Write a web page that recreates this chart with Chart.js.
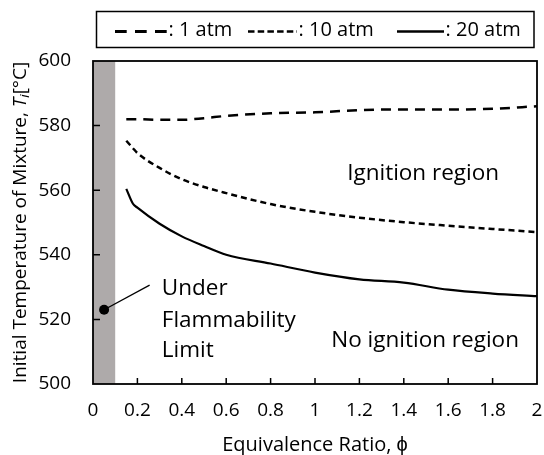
<!DOCTYPE html>
<html lang="en">
<head>
  <meta charset="UTF-8" />
  <title>Ignition temperature vs equivalence ratio</title>
  <style>
    body { margin: 0; background: #fff; }
    #wrap { width: 544px; height: 455px; }
  </style>
  <script src="https://cdn.jsdelivr.net/npm/chart.js"></script>
</head>
<body>
  <div id="wrap"><canvas id="grafico" width="544" height="455"></canvas></div>

  <script>
    // equivalence ratio points and initial mixture temperature for each pressure
    const phi = [0.15, 0.18, 0.2, 0.3, 0.4, 0.5, 0.6, 0.8, 1.0, 1.2, 1.4, 1.6, 1.8, 2.0];
    const temp1atm  = [582, 582, 582, 581.8, 581.8, 582.3, 583, 583.8, 584.1, 584.8, 585, 585, 585.2, 586];
    const temp10atm = [575.3, 573, 571.5, 566.9, 563.4, 561, 559.1, 555.7, 553.3, 551.5, 550.1, 549, 548, 547];
    const temp20atm = [560.4, 555.8, 554.6, 549.6, 545.7, 542.7, 540, 537.3, 534.5, 532.4, 531.4, 529.2, 528, 527.2];

    const xTicks = [0, 0.2, 0.4, 0.6, 0.8, 1, 1.2, 1.4, 1.6, 1.8, 2];
    const yTicks = [500, 520, 540, 560, 580, 600];

    // flammability limit band and its marker
    const limitPhi = 0.1;
    const leaderLine = [{ x: 0.05, y: 523 }, { x: 0.255, y: 530.6 }];

    const FONT = '"Open Sans", sans-serif';

    const pts = arr => phi.map((p, i) => ({ x: p, y: arr[i] }));

    const plotExtras = {
      id: 'plotExtras',
      beforeDatasetsDraw(chart) {
        const { ctx, scales: { x, y } } = chart;
        // grey band below the lean flammability limit
        ctx.save();
        ctx.fillStyle = '#aeaaaa';
        const x0 = x.getPixelForValue(0), x1 = x.getPixelForValue(limitPhi);
        ctx.fillRect(x0, y.getPixelForValue(600), x1 - x0, y.getPixelForValue(500) - y.getPixelForValue(600));
        ctx.restore();
      },
      afterDraw(chart) {
        const { ctx, chartArea: a, scales: { x, y } } = chart;
        ctx.save();

        // inward tick marks
        ctx.strokeStyle = '#000';
        ctx.lineWidth = 1.5;
        ctx.beginPath();
        xTicks.slice(1, -1).forEach(v => {
          const px = x.getPixelForValue(v);
          ctx.moveTo(px, a.bottom);
          ctx.lineTo(px, a.bottom - 6);
        });
        yTicks.slice(1, -1).forEach(v => {
          const py = y.getPixelForValue(v);
          ctx.moveTo(a.left, py);
          ctx.lineTo(a.left + 7, py);
        });
        ctx.stroke();

        // frame
        ctx.lineWidth = 1.8;
        ctx.strokeRect(a.left, a.top, a.right - a.left, a.bottom - a.top);

        // region labels
        ctx.fillStyle = '#000';
        ctx.font = '22.5px ' + FONT;
        ctx.textBaseline = 'alphabetic';
        ctx.textAlign = 'center';
        ctx.fillText('Ignition region', x.getPixelForValue(1.487), y.getPixelForValue(563.2));
        ctx.fillText('No ignition region', x.getPixelForValue(1.496), y.getPixelForValue(511.6));
        ctx.textAlign = 'left';
        ctx.fillText('Under', x.getPixelForValue(0.31), y.getPixelForValue(527.4));
        ctx.fillText('Flammability', x.getPixelForValue(0.31), y.getPixelForValue(517.5));
        ctx.fillText('Limit', x.getPixelForValue(0.31), y.getPixelForValue(508.5));

        // y axis title with italic T and subscript i
        ctx.translate(21, (a.top + a.bottom) / 2);
        ctx.rotate(-Math.PI / 2);
        const parts = [
          { t: 'Initial Temperature of Mixture, ', f: '19px ' + FONT, dy: 0 },
          { t: 'T', f: 'italic 19px ' + FONT, dy: 0 },
          { t: 'i', f: 'italic 13px ' + FONT, dy: 4 },
          { t: '[°C]', f: '19px ' + FONT, dy: 0 }
        ];
        let total = 0;
        parts.forEach(p => { ctx.font = p.f; p.w = ctx.measureText(p.t).width; total += p.w; });
        let cx = -total / 2;
        ctx.textBaseline = 'middle';
        parts.forEach(p => {
          ctx.font = p.f;
          ctx.fillText(p.t, cx, p.dy);
          cx += p.w;
        });
        ctx.restore();

        // legend box above the plot
        ctx.save();
        ctx.strokeStyle = '#000';
        ctx.lineWidth = 1.5;
        ctx.strokeRect(96.5, 11.5, 437.5, 36);
        ctx.font = '20px ' + FONT;
        ctx.fillStyle = '#000';
        ctx.textBaseline = 'middle';
        ctx.textAlign = 'left';
        const items = [
          { x0: 115, x1: 167, dash: [11.7, 8.3], w: 3, label: ': 1 atm' },
          { x0: 248, x1: 297, dash: [6.5, 3.2], w: 2.5, label: ': 10 atm' },
          { x0: 397, x1: 444, dash: [], w: 2.5, label: ': 20 atm' }
        ];
        items.forEach(it => {
          ctx.beginPath();
          ctx.setLineDash(it.dash);
          ctx.lineWidth = it.w;
          ctx.moveTo(it.x0, 31.5);
          ctx.lineTo(it.x1, 31.5);
          ctx.stroke();
          ctx.setLineDash([]);
          ctx.fillText(it.label, it.x1 + 1.5, 30);
        });
        ctx.restore();
      }
    };

    new Chart(document.getElementById('grafico'), {
      type: 'line',
      data: {
        datasets: [
          {
            label: '1 atm',
            data: pts(temp1atm),
            borderColor: '#000',
            borderWidth: 2.5,
            borderDash: [10, 7],
            pointRadius: 0,
            cubicInterpolationMode: 'monotone'
          },
          {
            label: '10 atm',
            data: pts(temp10atm),
            borderColor: '#000',
            borderWidth: 2.5,
            borderDash: [6, 4],
            pointRadius: 0,
            cubicInterpolationMode: 'monotone'
          },
          {
            label: '20 atm',
            data: pts(temp20atm),
            borderColor: '#000',
            borderWidth: 2.2,
            pointRadius: 0,
            cubicInterpolationMode: 'monotone'
          },
          {
            label: 'leader',
            data: leaderLine,
            borderColor: '#000',
            backgroundColor: '#000',
            borderWidth: 1.3,
            pointRadius: [5, 0],
            pointBorderWidth: 0
          }
        ]
      },
      options: {
        responsive: false,
        animation: false,
        devicePixelRatio: 1,
        layout: { padding: { top: 61, right: 7, left: 0, bottom: 0 } },
        plugins: {
          legend: { display: false },
          tooltip: { enabled: false }
        },
        scales: {
          x: {
            type: 'linear',
            min: 0,
            max: 2,
            afterBuildTicks: s => { s.ticks = xTicks.map(v => ({ value: v })); },
            afterFit: s => { s.height = 71; s.paddingLeft = 0; s.paddingRight = 0; },
            grid: { display: false, drawTicks: false },
            border: { display: false },
            title: {
              display: true,
              text: 'Equivalence Ratio, ϕ',
              color: '#000',
              font: { family: FONT, size: 20 },
              padding: { top: 0, bottom: -2 }
            },
            ticks: {
              color: '#000',
              font: { family: FONT, size: 19 },
              padding: 15,
              maxRotation: 0,
              callback: v => String(v)
            }
          },
          y: {
            min: 500,
            max: 600,
            afterBuildTicks: s => { s.ticks = yTicks.map(v => ({ value: v })); },
            afterFit: s => { s.width = 93; },
            grid: { display: false, drawTicks: false },
            border: { display: false },
            ticks: {
              color: '#000',
              font: { family: FONT, size: 19 },
              padding: 22,
              callback: v => String(v)
            }
          }
        }
      },
      plugins: [plotExtras]
    });
  </script>
</body>
</html>
